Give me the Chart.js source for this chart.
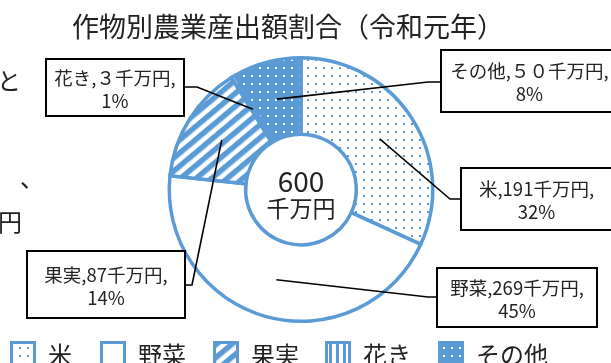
<!DOCTYPE html>
<html>
<head>
<meta charset="utf-8">
<script src="https://cdn.jsdelivr.net/npm/chart.js@4"></script>
<style>
html,body{margin:0;padding:0;background:#fff;overflow:hidden;}
#wrap{position:relative;width:611px;height:363px;}
</style>
</head>
<body>
<div id="wrap"><canvas id="c" width="611" height="363"></canvas></div>
<script>
// ---- data ----
const categories = ['米', '野菜', '果実', '花き', 'その他'];
const values = [191, 269, 87, 3, 50];            // 千万円
const valueText = ['191', '269', '87', '３', '５０']; // as printed in the callouts
const percents = [32, 45, 14, 1, 8];
const titleText = '作物別農業産出額割合（令和元年）';
const unitText = '千万円';

const FONT = "'Noto Sans CJK JP', 'Noto Sans', sans-serif";
const BLUE = '#5B9BD5';

// ---- fill patterns ----
const ctxTmp = document.getElementById('c').getContext('2d');
function makePattern(w, h, draw, transform) {
  const c = document.createElement('canvas');
  c.width = w; c.height = h;
  draw(c.getContext('2d'));
  const p = ctxTmp.createPattern(c, 'repeat');
  if (transform) p.setTransform(transform);
  return p;
}
const patRice = makePattern(8, 8, g => {
  g.fillStyle = '#fff'; g.fillRect(0, 0, 8, 8);
  g.fillStyle = BLUE; g.fillRect(3, 3, 2, 2);
});
const patVeg = '#ffffff';
const patFruit = makePattern(10, 10, g => {
  g.fillStyle = '#fff'; g.fillRect(0, 0, 10, 10);
  g.fillStyle = BLUE; g.fillRect(0, 0, 5.5, 10);
}, new DOMMatrix().rotate(50));
const patFlower = makePattern(7, 7, g => {
  g.fillStyle = '#fff'; g.fillRect(0, 0, 7, 7);
  g.fillStyle = BLUE; g.fillRect(0, 0, 3, 7);
});
const patOther = makePattern(8, 8, g => {
  g.fillStyle = BLUE; g.fillRect(0, 0, 8, 8);
  g.fillStyle = '#fff'; g.fillRect(3, 3, 2, 2);
});
const fills = [patRice, patVeg, patFruit, patFlower, patOther];

// ---- callout layout (box rectangles + elbow points) ----
const callouts = [
  { box: [461, 168, 612, 230], elbow: [450, 199], end: [461, 199] },
  { box: [437, 268, 597, 327], elbow: [428, 297], end: [437, 297] },
  { box: [27, 251, 185, 318],  elbow: [192, 285], end: [185, 285] },
  { box: [46, 59, 184, 116],   elbow: [197, 87],  end: [184, 87] },
  { box: [441, 50, 618, 112],  elbow: [428, 82],  end: [441, 82] }
];

const overlay = {
  id: 'overlay',
  afterDraw(chart) {
    const ctx = chart.ctx;
    const meta = chart.getDatasetMeta(0);
    ctx.save();
    // title
    ctx.fillStyle = '#222';
    ctx.textAlign = 'center';
    ctx.textBaseline = 'middle';
    ctx.font = '27px ' + FONT;
    ctx.fillText(titleText, 288, 27);

    // cropped body-text fragments on the left
    ctx.textAlign = 'left';
    ctx.font = '24px ' + FONT;
    ctx.fillText('と', -3, 81);
    ctx.fillText('）', -9, 178);
    ctx.fillText('、', 20, 178);
    ctx.fillText('円', -2, 222);

    // centre total
    const total = values.reduce((a, b) => a + b, 0);
    const a0 = meta.data[0];
    ctx.textAlign = 'center';
    ctx.font = '28px ' + FONT;
    ctx.fillText(String(total), a0.x, 181);
    ctx.font = '23px ' + FONT;
    ctx.fillText(unitText, a0.x, 208);

    // callouts
    meta.data.forEach((arc, i) => {
      const p = arc.tooltipPosition();
      const co = callouts[i];
      ctx.strokeStyle = '#000';
      ctx.lineWidth = 1.6;
      ctx.beginPath();
      ctx.moveTo(p.x, p.y);
      ctx.lineTo(co.elbow[0], co.elbow[1]);
      ctx.lineTo(co.end[0], co.end[1]);
      ctx.stroke();
      const [x1, y1, x2, y2] = co.box;
      ctx.fillStyle = '#fff';
      ctx.fillRect(x1, y1, x2 - x1, y2 - y1);
      ctx.lineWidth = 2;
      ctx.strokeRect(x1, y1, x2 - x1, y2 - y1);
      ctx.fillStyle = '#222';
      ctx.font = '18.5px ' + FONT;
      const cx = (x1 + x2) / 2, cy = (y1 + y2) / 2;
      ctx.fillText(categories[i] + ',' + valueText[i] + unitText + ',', cx, cy - 10);
      ctx.fillText(percents[i] + '%', cx, cy + 13);
    });

    // legend
    const legendX = [10, 100, 213, 325, 438];
    ctx.textAlign = 'left';
    categories.forEach((name, i) => {
      const x = legendX[i], y = 341, s = 26;
      ctx.fillStyle = fills[i];
      ctx.fillRect(x, y, s, s);
      ctx.strokeStyle = BLUE;
      ctx.lineWidth = 3;
      ctx.strokeRect(x + 1.5, y + 1.5, s - 3, s - 3);
      ctx.fillStyle = '#222';
      ctx.font = '24px ' + FONT;
      ctx.fillText(name, x + 38, 355);
    });
    ctx.restore();
  }
};

new Chart(document.getElementById('c'), {
  type: 'doughnut',
  data: {
    labels: categories,
    datasets: [{
      data: values,
      backgroundColor: fills,
      borderColor: BLUE,
      borderWidth: 3.5,
      hoverBorderWidth: 3.5,
      borderJoinStyle: 'miter'
    }]
  },
  options: {
    responsive: false,
    animation: false,
    cutout: '42%',
    layout: { padding: { left: 167, right: 176, top: 56, bottom: 40 } },
    plugins: { legend: { display: false }, tooltip: { enabled: false } }
  },
  plugins: [overlay]
});
</script>
</body>
</html>
